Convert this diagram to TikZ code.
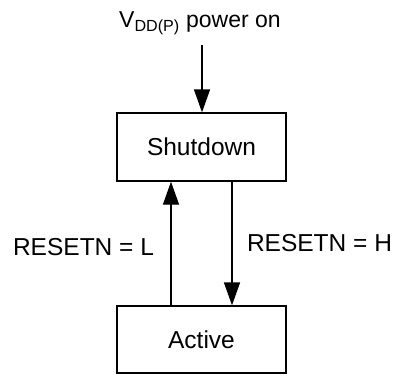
\documentclass[tikz,border=0pt]{standalone}
\usepackage{fontspec}
\setmainfont{Liberation Sans}
\usepackage{tikz}
\usetikzlibrary{arrows.meta}

\begin{document}
\begin{tikzpicture}[x=1pt,y=-1pt]
			\tikzstyle{every node}+=[inner sep=0pt,font=\fontsize{24.5}{28}\selectfont]
			\tikzstyle{state}=[draw,line width=1.3pt,minimum width=169pt]
			\tikzstyle{flow}=[line width=1.3pt,-{Triangle[width=16pt,length=23pt]}]
			\useasboundingbox (0,0) rectangle (394,376);
			\node [state,minimum height=68pt] (shutdown) at (201.5,147) {Shutdown};
			\node [state,minimum height=67pt] (active) at (201.5,339.5) {Active};
			\node [anchor=base,font=\fontsize{23}{27}\selectfont] (pwr) at (200,27.7) {V\textsubscript{DD(P)} power on};
			\coordinate (pwrin) at (202,45);
			\draw [flow] (pwrin) -- (shutdown.north -| pwrin);
			\draw [flow] ([xshift=-30.5pt]active.north) -- ([xshift=-30.5pt]shutdown.south);
			\draw [flow] ([xshift=30.5pt]shutdown.south) -- ([xshift=30.5pt]active.north);
			\node (lo) at (83.5,247.5) {RESETN = L};
			\node (hi) at (319.5,243) {RESETN = H};
		\end{tikzpicture}
\end{document}
